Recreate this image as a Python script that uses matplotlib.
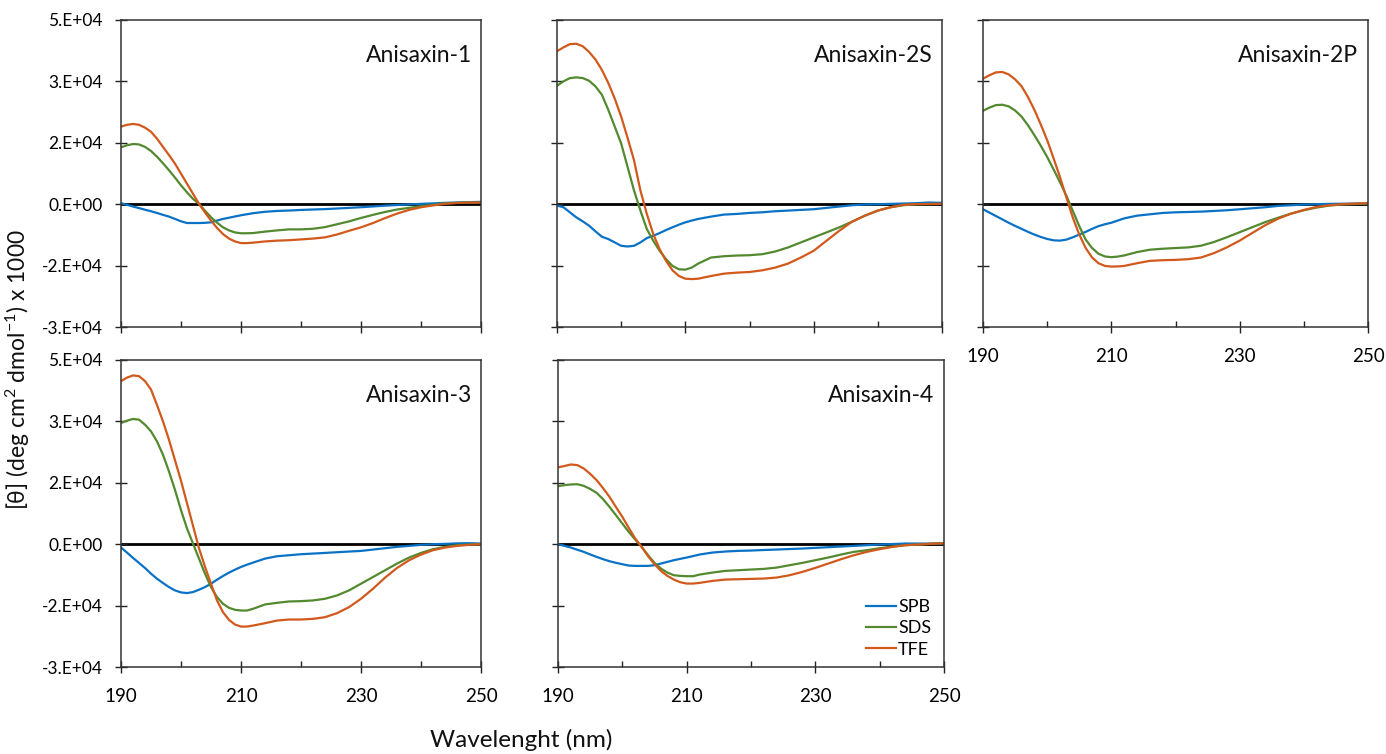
import matplotlib
matplotlib.use("Agg")
import matplotlib.pyplot as plt
from matplotlib.ticker import MultipleLocator

plt.rcParams['font.family'] = ['Lato', 'DejaVu Sans']
plt.rcParams['mathtext.fontset'] = 'custom'
plt.rcParams['mathtext.rm'] = 'Lato'
plt.rcParams['mathtext.it'] = 'Lato:italic'

# Wavelength grid (nm)
wavelength = [190, 191, 192, 193, 194, 195, 196, 197, 198, 199, 200, 201, 202, 203,
              204, 205, 206, 207, 208, 209, 210, 211, 212, 214, 216, 218, 220, 222,
              224, 226, 228, 230, 232, 234, 236, 238, 240, 242, 244, 246, 248, 250]

peptides = ["Anisaxin-1", "Anisaxin-2S", "Anisaxin-2P", "Anisaxin-3", "Anisaxin-4"]
solvents = ["SPB", "SDS", "TFE"]

# Mean residue ellipticity per peptide and solvent
anisaxin1_spb = [250, -150, -570, -950, -1350, -1720, -2150, -2600, -3030, -3600, -4180, -4600,
                 -4600, -4600, -4550, -4430, -4000, -3600, -3300, -3000, -2700, -2450, -2200,
                 -1850, -1650, -1550, -1400, -1300, -1200, -1050, -900, -740, -550, -350, -200,
                 -50, 80, 200, 330, 420, 500, 570]
anisaxin1_sds = [13900, 14400, 14700, 14600, 14000, 13000, 11600, 10000, 8300, 6500, 4600, 2900,
                 1300, 80, -1600, -3200, -4500, -5650, -6400, -6900, -7100, -7100, -7050, -6700,
                 -6400, -6150, -6150, -6000, -5600, -4900, -4200, -3360, -2600, -1900, -1300,
                 -900, -500, -150, 200, 330, 400, 400]
anisaxin1_tfe = [18940, 19400, 19600, 19400, 18700, 17700, 16000, 14000, 12000, 9900, 7460, 5000,
                 2540, 80, -2000, -4000, -5800, -7300, -8400, -9100, -9500, -9500, -9400, -9100,
                 -8900, -8800, -8600, -8400, -8100, -7400, -6500, -5650, -4600, -3400, -2300,
                 -1400, -740, -300, 100, 300, 400, 400]

anisaxin2s_spb = [-330, -740, -1970, -3200, -4180, -5250, -6640, -7950, -8520, -9340, -10160,
                  -10330, -10160, -9340, -8280, -7700, -7050, -6310, -5650, -5000, -4430, -4000,
                  -3600, -3030, -2540, -2380, -2130, -1970, -1720, -1560, -1390, -1230, -900,
                  -570, -250, -80, 0, 80, 160, 250, 410, 330]
anisaxin2s_sds = [28940, 30000, 30800, 30980, 30820, 30160, 28770, 26720, 23030, 18940, 14840,
                  9100, 3360, -1560, -6070, -8930, -11390, -13440, -15080, -15900, -15980,
                  -15490, -14510, -13030, -12710, -12540, -12460, -12210, -11560, -10570, -9340,
                  -8110, -6890, -5650, -4260, -2790, -1560, -740, -250, 0, 50, 80]
anisaxin2s_tfe = [37380, 38300, 39100, 39200, 38600, 37200, 35330, 32800, 29590, 25800, 21400,
                  16200, 10740, 3360, -2380, -7300, -11000, -13850, -16150, -17540, -18200,
                  -18300, -18200, -17540, -16970, -16720, -16560, -16150, -15490, -14510,
                  -13030, -11390, -8930, -6480, -4260, -2790, -1560, -740, -160, 0, 50, 80]

anisaxin2p_spb = [-1240, -2050, -2880, -3700, -4530, -5300, -6020, -6750, -7420, -8000, -8490,
                  -8820, -8900, -8650, -8080, -7420, -6760, -6020, -5360, -4900, -4530, -4000,
                  -3460, -2800, -2470, -2140, -1980, -1900, -1810, -1650, -1480, -1240, -990,
                  -740, -410, -250, -80, 0, 80, 120, 150, 160]
anisaxin2p_sds = [22820, 23600, 24200, 24300, 23900, 22900, 21420, 19300, 16890, 14300, 11540,
                  8500, 5360, 2060, -1650, -5360, -8650, -10710, -12110, -12770, -12940, -12800,
                  -12520, -11700, -11120, -10880, -10710, -10550, -10140, -9230, -8080, -6840,
                  -5600, -4370, -3300, -2310, -1480, -820, -330, -80, 50, 160]
anisaxin2p_tfe = [30650, 31500, 32200, 32300, 31720, 30500, 28840, 26200, 23070, 19500, 15660,
                  11200, 6590, 1650, -3300, -7400, -10700, -13020, -14420, -15080, -15240,
                  -15200, -15080, -14420, -13840, -13680, -13600, -13430, -13020, -11950,
                  -10550, -8900, -7000, -5110, -3540, -2310, -1400, -660, -250, 0, 150, 250]

anisaxin3_spb = [-820, -2050, -3350, -4580, -5810, -7200, -8430, -9490, -10470, -11290, -11780,
                 -11940, -11700, -11120, -10470, -9650, -8670, -7770, -6950, -6220, -5560, -5000,
                 -4500, -3520, -2940, -2700, -2450, -2290, -2130, -1960, -1800, -1640, -1310,
                 -980, -650, -410, -160, 0, 80, 200, 250, 160]
anisaxin3_sds = [29610, 30180, 30590, 30430, 29200, 27570, 25110, 21840, 17750, 13250, 8340,
                 3840, 160, -3520, -7200, -10470, -12920, -14560, -15540, -16030, -16200, -16200,
                 -15790, -14720, -14320, -13990, -13910, -13740, -13330, -12520, -11290, -9650,
                 -8020, -6380, -4740, -3270, -2130, -1230, -650, -250, -80, 0]
anisaxin3_tfe = [39840, 40700, 41230, 41060, 39840, 37790, 34000, 30000, 25500, 20500, 15500,
                 10000, 4500, -1000, -5500, -9650, -13740, -16610, -18490, -19630, -20120,
                 -20120, -19880, -19300, -18650, -18400, -18400, -18240, -17830, -16850,
                 -15380, -13330, -10880, -8180, -5810, -3930, -2540, -1470, -820, -410, -160, 0]

anisaxin4_spb = [0, -400, -820, -1350, -1870, -2500, -3100, -3650, -4160, -4550, -4890, -5220,
                 -5300, -5300, -5300, -5130, -4730, -4320, -3910, -3580, -3260, -2900, -2530,
                 -2040, -1790, -1630, -1550, -1420, -1300, -1180, -1060, -900, -730, -570, -410,
                 -240, -80, 40, 160, 160, 160, 160]
anisaxin4_sds = [14180, 14430, 14600, 14650, 14260, 13500, 12550, 11000, 9130, 7100, 5050, 3000,
                 1140, -650, -2690, -4560, -5950, -6930, -7580, -7740, -7820, -7820, -7420,
                 -6930, -6520, -6360, -6190, -6030, -5710, -5130, -4560, -3910, -3260, -2530,
                 -1870, -1470, -980, -570, -240, -80, 100, 240]
anisaxin4_tfe = [18750, 19100, 19480, 19320, 18500, 17200, 15650, 13700, 11570, 9100, 6680, 4000,
                 1390, -650, -2930, -4890, -6520, -7740, -8640, -9290, -9620, -9620, -9450,
                 -8970, -8640, -8560, -8480, -8390, -8150, -7580, -6760, -5790, -4730, -3670,
                 -2690, -1870, -1220, -650, -240, -80, 100, 240]

spectra = {
    "Anisaxin-1": [anisaxin1_spb, anisaxin1_sds, anisaxin1_tfe],
    "Anisaxin-2S": [anisaxin2s_spb, anisaxin2s_sds, anisaxin2s_tfe],
    "Anisaxin-2P": [anisaxin2p_spb, anisaxin2p_sds, anisaxin2p_tfe],
    "Anisaxin-3": [anisaxin3_spb, anisaxin3_sds, anisaxin3_tfe],
    "Anisaxin-4": [anisaxin4_spb, anisaxin4_sds, anisaxin4_tfe],
}

ytick_values = [-30000, -15000, 0, 15000, 30000, 45000]
ytick_labels = ["-3.E+04", "-2.E+04", "0.E+00", "2.E+04", "3.E+04", "5.E+04"]
xtick_values = [190, 210, 230, 250]

colors = ["#0A72C6", "#53892F", "#D2591C"]

W, H = 1386, 754
fig = plt.figure(figsize=(W / 100, H / 100), dpi=100)

# panel boxes in pixels: left, top, right, bottom
boxes = [(121, 20, 481, 327), (557, 20, 942, 327), (983, 20, 1368, 327),
         (121, 360, 481, 667), (558, 360, 944, 667)]
show_x = [False, False, True, True, True]
show_y = [True, False, False, True, False]

axes = []
for i, (name, (l, t, r, b)) in enumerate(zip(peptides, boxes)):
    ax = fig.add_axes([l / W, 1 - b / H, (r - l) / W, (b - t) / H])
    ax.axhline(0, color="black", lw=2.0, zorder=1)
    for sol, col, vals in zip(solvents, colors, spectra[name]):
        ax.plot(wavelength, vals, color=col, lw=1.6, label=sol, zorder=2)
    ax.set_xlim(190, 250)
    ax.set_ylim(-30000, 45000)
    ax.set_xticks(xtick_values)
    ax.xaxis.set_minor_locator(MultipleLocator(10))
    ax.set_yticks(ytick_values)
    if show_y[i]:
        ax.set_yticklabels(ytick_labels)
    else:
        ax.set_yticklabels([])
    if not show_x[i]:
        ax.set_xticklabels([])
    ax.tick_params(axis="x", which="major", direction="inout", length=8, width=1,
                   labelsize=13.5, pad=11, color="#222222")
    ax.tick_params(axis="x", which="minor", direction="in", length=4, width=1,
                   color="#222222")
    ax.tick_params(axis="y", which="major", direction="inout", length=8, width=1,
                   labelsize=12.5, pad=9, color="#222222")
    for sp in ax.spines.values():
        sp.set_color("#333333")
        sp.set_linewidth(1.1)
    ax.text(0.975, 0.885, name, transform=ax.transAxes, ha="right", va="center",
            fontsize=16.5, color="#111111")
    axes.append(ax)

axes[4].legend(loc="lower right", bbox_to_anchor=(0.995, -0.005), frameon=False,
               fontsize=13, handlelength=1.7, handletextpad=0.1,
               labelspacing=0.3, borderaxespad=0.2)

fig.text(18 / W, 1 - 370 / H, "[θ] (deg cm$^{2}$ dmol$^{-1}$) x 1000", rotation=90,
         ha="center", va="center", fontsize=16.5, color="#111111")
fig.text(521 / W, 1 - 740 / H, "Wavelenght (nm)", ha="center", va="center",
         fontsize=17.5, color="#111111")

fig.savefig("out.png", dpi=100)
